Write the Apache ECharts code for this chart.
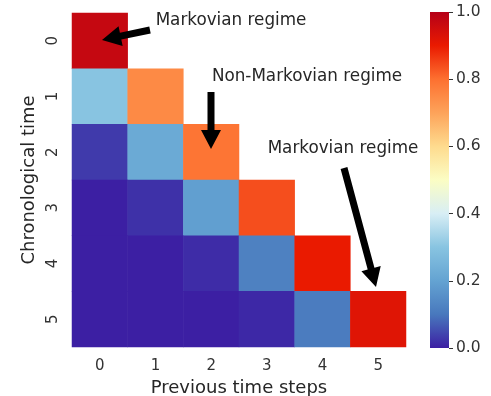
<!DOCTYPE html>
<html>
<head>
<meta charset="utf-8">
<script src="https://cdn.jsdelivr.net/npm/echarts@6/dist/echarts.min.js"></script>
<style>html,body{margin:0;padding:0;background:#fff}#c{width:491px;height:396px}</style>
</head>
<body>
<div id="c"></div>
<script>
const xCategories = ['0','1','2','3','4','5'];
const yCategories = ['0','1','2','3','4','5'];
// rows: chronological time, columns: previous time steps (lower triangle only)
const row0 = [0.97];
const row1 = [0.30, 0.75];
const row2 = [0.03, 0.22, 0.79];
const row3 = [0.0, 0.02, 0.19, 0.84];
const row4 = [0.0, 0.0, 0.015, 0.12, 0.90];
const row5 = [0.0, 0.0, 0.0, 0.01, 0.11, 0.92];
const rows = [row0, row1, row2, row3, row4, row5];
const colorbarTicks = [0, 0.2, 0.4, 0.6, 0.8, 1.0];
const cmap = ['#3c1fa3','#4878bd','#64a3d2','#88c4e1','#d8eef5','#fbfdc4','#fedb8e','#fda35a','#fd7030','#ea1a00','#b50018'];
const annotations = [
  {text: 'Markovian regime', x: 231, y: 21, from: [150, 30], to: [102, 40]},
  {text: 'Non-Markovian regime', x: 307, y: 77, from: [211, 92], to: [211, 149]},
  {text: 'Markovian regime', x: 343, y: 149, from: [344, 168], to: [376, 287]}
];

const data = [];
rows.forEach((r, yi) => r.forEach((v, xi) => data.push([xi, yi, v])));

function arrowPoly(a, b) {
  const dx = b[0]-a[0], dy = b[1]-a[1];
  const L = Math.hypot(dx, dy);
  const ux = dx/L, uy = dy/L, px = -uy, py = ux;
  const sw = 3.5, hw = 10, hl = 19;
  const bx = b[0]-ux*hl, by = b[1]-uy*hl;
  return [
    [a[0]+px*sw, a[1]+py*sw],
    [bx+px*sw, by+py*sw],
    [bx+px*hw, by+py*hw],
    [b[0], b[1]],
    [bx-px*hw, by-py*hw],
    [bx-px*sw, by-py*sw],
    [a[0]-px*sw, a[1]-py*sw]
  ];
}

const font = 'DejaVu Sans';
const graphics = [];
annotations.forEach(an => {
  graphics.push({type:'text', z:100, x: an.x, y: an.y, style:{text: an.text, font: '16.8px "DejaVu Sans"', fill:'#262626', textAlign:'center', textVerticalAlign:'middle'}});
  graphics.push({type:'polygon', z:100, shape:{points: arrowPoly(an.from, an.to)}, style:{fill:'#000'}});
});

const chart = echarts.init(document.getElementById('c'), null, {renderer:'canvas'});
chart.setOption({
  animation: false,
  textStyle: {fontFamily: font},
  grid: [
    {left: 72, top: 13, width: 334, height: 334, outerBoundsMode:'none', containLabel:false},
    {left: 430, top: 12, width: 19, height: 336, outerBoundsMode:'none', containLabel:false}
  ],
  xAxis: [
    {type:'category', gridIndex:0, data: xCategories, position:'bottom',
     axisLine:{show:false}, axisTick:{show:false}, splitLine:{show:false},
     axisLabel:{color:'#333', fontSize:15, margin:12, fontFamily:font},
     name:'Previous time steps', nameLocation:'middle', nameGap:31,
     nameTextStyle:{fontSize:18, color:'#262626', fontFamily:font}},
    {type:'category', gridIndex:1, data:['c'], show:false}
  ],
  yAxis: [
    {type:'category', gridIndex:0, data: yCategories, inverse:true,
     axisLine:{show:false}, axisTick:{show:false}, splitLine:{show:false},
     axisLabel:{color:'#333', fontSize:15, rotate:90, margin:11, fontFamily:font},
     name:'Chronological time', nameLocation:'middle', nameGap:33, nameRotate:90,
     nameTextStyle:{fontSize:18, color:'#262626', fontFamily:font}},
    {type:'value', gridIndex:1, min:0, max:1, interval:0.2, position:'right',
     axisLine:{show:false}, splitLine:{show:false},
     axisTick:{show:true, length:4, lineStyle:{color:'#333'}},
     axisLabel:{color:'#333', fontSize:15.5, margin:7, fontFamily:font,
       formatter: v => v.toFixed(1)}}
  ],
  visualMap: {show:false, type:'continuous', min:0, max:1, seriesIndex:0, inRange:{color: cmap}},
  series: [
    {type:'heatmap', xAxisIndex:0, yAxisIndex:0, data: data, itemStyle:{borderWidth:0}, emphasis:{disabled:true}},
    {type:'bar', xAxisIndex:1, yAxisIndex:1, data:[1], barWidth:'100%', silent:true,
     itemStyle:{color: new echarts.graphic.LinearGradient(0,1,0,0, cmap.map((c,i)=>({offset:i/(cmap.length-1), color:c})))}}
  ],
  graphic: graphics
});
</script>
</body>
</html>
